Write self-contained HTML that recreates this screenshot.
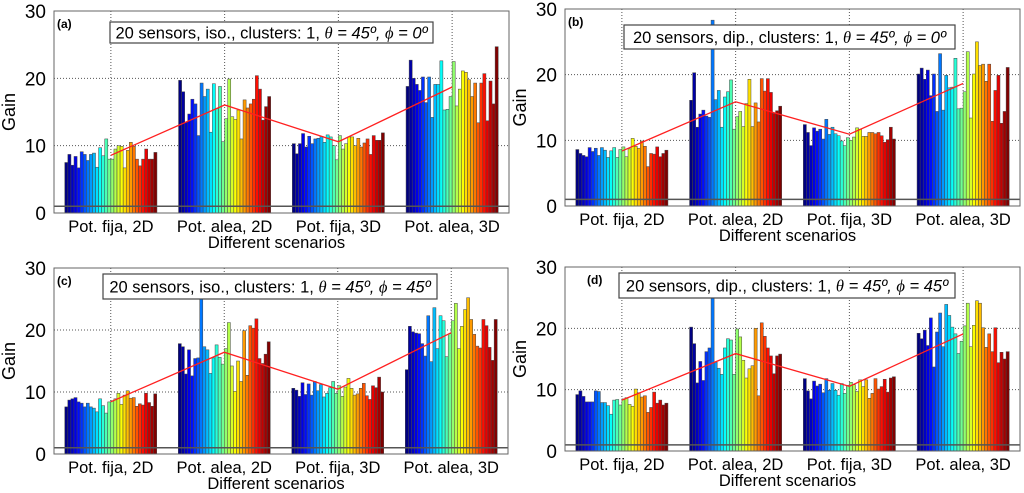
<!DOCTYPE html>
<html><head><meta charset="utf-8"><style>
body{margin:0;background:#fff;width:1024px;height:493px;overflow:hidden}
svg{display:block;font-family:"Liberation Sans",sans-serif}
</style></head><body>
<svg id="chart" width="1024" height="493"></svg>
<script>
const categories = ["Pot. fija, 2D","Pot. alea, 2D","Pot. fija, 3D","Pot. alea, 3D"];
const yTicks = [0,10,20,30];
const a_g1=[7.5,8.7,7.1,8.4,6.7,9.1,8.7,7.8,8.7,8.9,6.8,9.7,8.5,11.0,8.0,8.0,9.5,10.0,9.9,6.7,9.3,10.5,9.9,8.0,7.0,8.0,9.5,8.0,8.0,9.0];
const a_g2=[19.7,18.0,13.5,14.7,16.9,16.2,11.5,19.3,17.3,18.4,12.0,19.2,15.5,18.8,10.6,14.0,19.9,14.3,13.9,15.3,11.0,16.8,15.6,16.2,16.9,20.4,18.4,13.8,15.8,17.3];
const a_g3=[10.3,8.8,10.3,11.8,9.8,11.4,10.3,11.0,11.1,11.4,10.5,11.6,11.3,10.0,7.9,11.5,9.5,10.3,11.3,11.3,10.0,11.1,9.8,10.4,11.0,8.7,11.5,10.8,10.8,11.9];
const a_g4=[18.8,22.7,20.0,19.1,18.2,20.2,16.4,20.2,14.2,19.1,19.1,22.6,15.3,15.4,17.3,22.5,15.9,18.4,21.1,20.9,19.8,17.3,19.3,13.4,19.3,20.7,13.7,19.6,16.2,24.7];
const b_g1=[8.6,8.0,7.7,7.5,8.9,8.3,8.8,7.7,8.9,8.5,7.4,8.4,8.9,7.4,8.6,9.0,7.5,8.7,10.3,9.1,8.8,9.9,9.1,6.0,8.0,7.9,9.0,7.5,8.0,8.5];
const b_g2=[16.1,20.3,12.0,14.0,14.6,13.7,13.5,28.3,16.2,17.6,12.0,16.6,17.4,19.2,11.7,13.6,14.4,12.1,15.6,19.3,12.1,15.7,12.8,19.4,17.5,19.4,17.3,14.1,14.5,15.2];
const b_g3=[12.4,11.2,9.2,11.9,11.4,11.7,10.2,13.2,10.9,12.0,11.0,10.7,9.9,9.2,10.4,10.0,10.5,11.9,11.7,10.6,10.6,11.2,11.2,11.0,11.2,10.7,9.7,10.1,12.0,10.2];
const b_g4=[20.1,21.0,19.3,20.7,16.8,20.1,14.4,23.2,14.6,19.9,18.0,18.1,22.5,14.8,14.9,17.4,23.5,13.4,20.1,25.0,21.4,21.6,19.0,21.6,12.9,17.6,19.9,12.6,14.4,21.1];
const c_g1=[7.6,8.7,8.9,9.1,8.4,8.2,7.6,8.2,7.6,7.4,6.8,8.9,7.8,6.6,8.4,8.6,8.9,9.8,8.0,9.5,10.2,9.0,9.1,7.7,8.1,7.9,9.8,8.3,7.7,9.7];
const c_g2=[17.8,17.3,12.9,16.8,12.6,15.4,15.5,25.0,17.3,16.8,13.0,15.5,17.6,15.6,14.5,17.0,21.2,14.2,10.1,15.0,11.7,19.9,12.7,20.7,20.3,21.8,15.4,14.6,16.1,18.1];
const c_g3=[10.6,10.3,9.3,11.5,9.6,11.3,9.5,11.7,10.2,11.2,9.2,9.8,10.7,11.7,9.8,11.0,9.3,10.8,12.2,10.6,9.5,9.7,10.6,11.4,9.4,8.8,11.0,10.7,12.4,10.0];
const c_g4=[13.6,20.6,19.7,19.5,19.4,17.8,15.8,22.3,14.9,23.6,17.0,22.3,21.5,15.7,19.4,21.5,24.3,17.0,20.6,23.3,25.2,21.7,19.3,17.4,17.1,21.7,20.7,17.2,15.1,21.7];
const d_g1=[9.2,9.8,8.9,8.0,8.0,8.0,9.8,9.7,7.9,7.9,7.4,6.0,8.3,8.4,7.5,8.5,8.7,7.6,7.3,10.1,9.5,8.8,9.0,6.3,7.1,9.6,7.8,8.3,7.5,7.8];
const d_g2=[20.2,17.5,11.1,14.6,11.5,16.2,16.8,25.0,14.5,13.5,12.5,16.8,18.3,18.1,12.5,19.9,18.6,14.8,11.9,13.4,13.9,20.0,9.0,20.9,18.7,16.8,15.5,12.6,15.5,15.8];
const d_g3=[11.8,9.8,8.5,11.4,10.6,10.9,9.5,11.8,9.9,11.0,9.9,9.1,11.0,9.4,10.7,11.2,10.8,9.7,11.6,10.5,11.6,8.6,9.4,11.8,10.1,10.5,11.7,9.6,11.9,12.1];
const d_g4=[19.2,18.3,19.7,17.2,21.7,13.7,19.4,22.5,17.0,23.9,22.1,20.2,19.1,15.9,17.9,20.4,24.1,17.0,20.5,24.5,24.1,20.1,16.9,19.1,16.2,20.1,14.4,16.1,15.0,16.2];

const panels=[
 {id:"a",data:[a_g1,a_g2,a_g3,a_g4],L:54,R:509,y0:213,y30:11,title:"20 sensors, iso., clusters: 1, ",phi:"0º",box:[110,22,323,21]},
 {id:"b",data:[b_g1,b_g2,b_g3,b_g4],L:565,R:1020,y0:206,y30:9,title:"20 sensors, dip., clusters: 1,  ",phi:"0º",box:[624,25,331,24]},
 {id:"c",data:[c_g1,c_g2,c_g3,c_g4],L:54,R:508,y0:454,y30:268,title:"20 sensors, iso., clusters: 1, ",phi:"45º",box:[103,274,334,25]},
 {id:"d",data:[d_g1,d_g2,d_g3,d_g4],L:565,R:1020,y0:451,y30:267,title:"20 sensors, dip., clusters: 1, ",phi:"45º",box:[619,273,336,25]}
];
const NS="http://www.w3.org/2000/svg";
const svg=document.getElementById('chart');
function mk(tag,attrs,parent,text){const e=document.createElementNS(NS,tag);for(const k in attrs)e.setAttribute(k,attrs[k]);if(text!==undefined)e.textContent=text;(parent||svg).appendChild(e);return e;}
function jet(t){const c=v=>Math.round(255*Math.max(0,Math.min(1,v)));
 return `rgb(${c(1.5-Math.abs(4*t-3))},${c(1.5-Math.abs(4*t-2))},${c(1.5-Math.abs(4*t-1))})`;}
panels.forEach(p=>{
 const g=mk('g',{});
 
 
 const y=v=>p.y0-(p.y0-p.y30)*v/30;
 const span=(p.R-p.L)/4;
 const cx=i=>p.L+span*(i+0.5);
 [10,20].forEach(v=>{const l=mk('line',{x1:p.L,x2:p.R,y1:y(v),y2:y(v),stroke:'#555','stroke-width':1,'stroke-dasharray':'1,2'},g);
   });
 categories.forEach((c,i)=>{const l=mk('line',{x1:cx(i),x2:cx(i),y1:p.y30,y2:p.y0,stroke:'#555','stroke-width':1,'stroke-dasharray':'1,2'},g);
   });
 const gw=span*0.81;
 p.data.forEach((arr,gi)=>{
  const bw=gw/arr.length; const x0=cx(gi)-gw/2;
  arr.forEach((v,k)=>{
   const r=mk('rect',{x:x0+k*bw,y:y(v),width:bw,height:y(0)-y(v),fill:jet(k/(arr.length-1)),stroke:'#444','stroke-width':0.5},g);
   
   
  });
 });
 const ref=mk('line',{x1:p.L,x2:p.R,y1:y(1),y2:y(1),stroke:'#555','stroke-width':1.5},g);
  
 const pts=p.data.map((arr,i)=>cx(i)+','+y(arr.reduce((s,v)=>s+v,0)/arr.length)).join(' ');
 const ml=mk('polyline',{points:pts,fill:'none',stroke:'#ff2020','stroke-width':1.3},g);
  
 const ax=mk('rect',{x:p.L,y:p.y30,width:p.R-p.L,height:p.y0-p.y30,fill:'none',stroke:'#666','stroke-width':1},g);
  
 yTicks.forEach(v=>{const t=mk('text',{x:p.L-8,y:y(v)+7,'text-anchor':'end','font-size':19,fill:'#000'},g,String(v));
   });
 categories.forEach((c,i)=>{const t=mk('text',{x:cx(i),y:p.y0+19,'text-anchor':'middle','font-size':16.5,fill:'#000'},g,c);
   });
 const xt=mk('text',{x:(p.L+p.R)/2-5,y:p.y0+35,'text-anchor':'middle','font-size':16.5,fill:'#000'},g,'Different scenarios');
  
 const yc=(p.y0+p.y30)/2;
 const yt=mk('text',{x:0,y:0,transform:`translate(${p.L-39},${yc}) rotate(-90)`,'text-anchor':'middle','font-size':18,fill:'#000'},g,'Gain');
  
 const pl=mk('text',{x:p.L+(p.id==='d'?22:3),y:p.y30+17,'font-size':12,'font-weight':'bold',fill:'#000'},g,'('+p.id+')');
  
 const b=p.box;
 const lb=mk('rect',{x:b[0],y:b[1],width:b[2],height:b[3],fill:'#fff',stroke:'#444','stroke-width':1.2},g);
  
 const lt=mk('text',{x:b[0]+b[2]/2,y:b[1]+b[3]/2+6,'text-anchor':'middle','font-size':16.5,fill:'#000'},g);
  
 mk('tspan',{},lt,p.title);
 mk('tspan',{'font-style':'italic','font-family':'Liberation Serif'},lt,'θ');
 mk('tspan',{'font-style':'italic'},lt,' = 45º, ');
 mk('tspan',{'font-style':'italic','font-family':'Liberation Serif'},lt,'ϕ');
 mk('tspan',{'font-style':'italic'},lt,' = '+p.phi);
});
</script>
</body></html>
